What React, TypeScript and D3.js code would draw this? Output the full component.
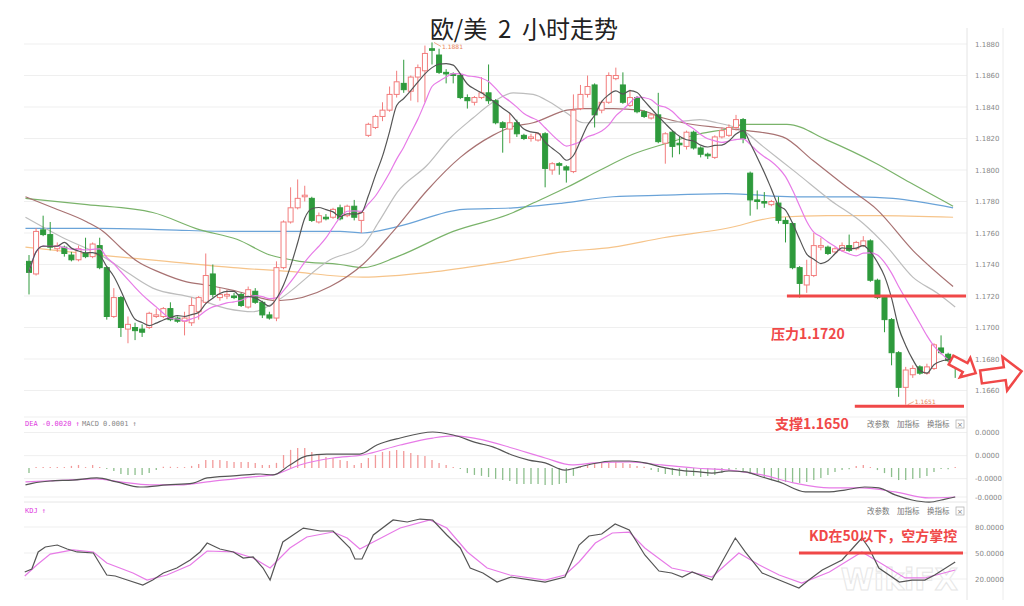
import React from 'react';
import * as d3 from 'd3';

// ---------- candle data (EUR/USD 2H) ----------
const candleOpen = [
  1.1742,1.1734,1.1762,1.1759,1.1750,1.1751,1.1746,1.1743,1.1747,1.1745,
  1.1752,1.1738,1.1707,1.1719,1.1699,1.1700,1.1699,1.1700,1.1707,1.1707,
  1.1712,1.1706,1.1704,1.1703,1.1710,1.1716,1.1734,1.1719,1.1720,1.1720,
  1.1721,1.1713,1.1723,1.1716,1.1708,1.1706,1.1738,1.1767,1.1776,1.1783,
  1.1782,1.1767,1.1770,1.1770,1.1776,1.1771,1.1777,1.1768,1.1822,1.1827,
  1.1834,1.1838,1.1848,1.1855,1.1850,1.1859,1.1863,1.1877,1.1873,1.1862,
  1.1861,1.1860,1.1846,1.1843,1.1846,1.1849,1.1844,1.1830,1.1826,1.1830,
  1.1822,1.1820,1.1819,1.1823,1.1800,1.1804,1.1802,1.1799,1.1839,1.1848,
  1.1854,1.1838,1.1843,1.1858,1.1854,1.1841,1.1846,1.1837,1.1833,1.1835,
  1.1817,1.1824,1.1817,1.1815,1.1824,1.1814,1.1810,1.1808,1.1821,1.1822,
  1.1827,1.1832,1.1798,1.1781,1.1780,1.1778,1.1779,1.1768,1.1766,1.1738,
  1.1727,1.1733,1.1751,1.1751,1.1748,1.1749,1.1752,1.1750,1.1752,1.1755,
  1.1730,1.1719,1.1705,1.1684,1.1662,1.1670,1.1675,1.1671,1.1674,1.1687,
  1.1683,1.1678,
];
const candleClose = [
  1.1735,1.1761,1.1759,1.1751,1.1752,1.1747,1.1743,1.1750,1.1745,1.1753,
  1.1738,1.1707,1.1719,1.1700,1.1702,1.1698,1.1697,1.1709,1.1708,1.1712,
  1.1705,1.1704,1.1706,1.1714,1.1719,1.1733,1.1721,1.1721,1.1721,1.1719,
  1.1714,1.1724,1.1716,1.1708,1.1706,1.1738,1.1767,1.1776,1.1782,1.1784,
  1.1768,1.1771,1.1769,1.1775,1.1769,1.1777,1.1770,1.1773,1.1829,1.1834,
  1.1838,1.1848,1.1856,1.1851,1.1859,1.1865,1.1874,1.1876,1.1862,1.1861,
  1.1860,1.1846,1.1844,1.1846,1.1849,1.1844,1.1830,1.1827,1.1830,1.1823,
  1.1820,1.1821,1.1823,1.1801,1.1804,1.1803,1.1800,1.1838,1.1848,1.1853,
  1.1835,1.1843,1.1860,1.1860,1.1843,1.1846,1.1837,1.1834,1.1835,1.1818,
  1.1823,1.1815,1.1816,1.1824,1.1814,1.1810,1.1809,1.1821,1.1825,1.1827,
  1.1832,1.1820,1.1781,1.1780,1.1779,1.1780,1.1768,1.1766,1.1738,1.1728,
  1.1733,1.1752,1.1752,1.1747,1.1750,1.1752,1.1749,1.1754,1.1755,1.1730,
  1.1719,1.1705,1.1684,1.1662,1.1673,1.1674,1.1671,1.1675,1.1689,1.1684,
  1.1679,1.1675,
];
const candleHigh = [
  1.1746,1.1763,1.1771,1.1767,1.1754,1.1752,1.1748,1.1752,1.1757,1.1754,
  1.1757,1.1739,1.1725,1.1720,1.1707,1.1703,1.1702,1.1710,1.1712,1.1713,
  1.1716,1.1707,1.1710,1.1719,1.1720,1.1747,1.1740,1.1725,1.1724,1.1722,
  1.1722,1.1726,1.1725,1.1717,1.1710,1.1742,1.1768,1.1789,1.1794,1.1790,
  1.1783,1.1773,1.1772,1.1776,1.1778,1.1778,1.1781,1.1774,1.1830,1.1835,
  1.1843,1.1853,1.1863,1.1870,1.1860,1.1867,1.1879,1.1881,1.1877,1.1864,
  1.1862,1.1861,1.1848,1.1847,1.1859,1.1867,1.1845,1.1831,1.1836,1.1832,
  1.1823,1.1823,1.1824,1.1824,1.1805,1.1805,1.1803,1.1848,1.1854,1.1860,
  1.1855,1.1844,1.1862,1.1865,1.1862,1.1851,1.1847,1.1838,1.1836,1.1849,
  1.1824,1.1825,1.1821,1.1825,1.1825,1.1815,1.1811,1.1822,1.1827,1.1829,
  1.1835,1.1833,1.1799,1.1787,1.1786,1.1781,1.1783,1.1770,1.1767,1.1739,
  1.1743,1.1760,1.1757,1.1752,1.1751,1.1754,1.1759,1.1755,1.1758,1.1756,
  1.1731,1.1720,1.1706,1.1685,1.1675,1.1676,1.1676,1.1677,1.1690,1.1695,
  1.1684,1.1680,
];
const candleLow = [
  1.1721,1.1733,1.1758,1.1749,1.1748,1.1745,1.1742,1.1742,1.1744,1.1744,
  1.1737,1.1705,1.1706,1.1694,1.1690,1.1692,1.1694,1.1699,1.1706,1.1706,
  1.1704,1.1703,1.1695,1.1701,1.1705,1.1715,1.1719,1.1717,1.1718,1.1718,
  1.1713,1.1712,1.1715,1.1706,1.1705,1.1704,1.1737,1.1766,1.1775,1.1780,
  1.1767,1.1766,1.1768,1.1769,1.1768,1.1770,1.1768,1.1760,1.1821,1.1826,
  1.1831,1.1837,1.1846,1.1849,1.1844,1.1843,1.1843,1.1867,1.1861,1.1855,
  1.1855,1.1845,1.1839,1.1841,1.1845,1.1842,1.1829,1.1811,1.1817,1.1821,
  1.1819,1.1818,1.1818,1.1789,1.1797,1.1797,1.1792,1.1798,1.1838,1.1846,
  1.1827,1.1836,1.1842,1.1857,1.1842,1.1840,1.1836,1.1833,1.1832,1.1817,
  1.1804,1.1808,1.1810,1.1813,1.1813,1.1808,1.1807,1.1807,1.1820,1.1821,
  1.1825,1.1817,1.1771,1.1775,1.1776,1.1777,1.1766,1.1754,1.1737,1.1719,
  1.1722,1.1732,1.1749,1.1746,1.1747,1.1748,1.1748,1.1749,1.1751,1.1729,
  1.1718,1.1697,1.1676,1.1656,1.1651,1.1668,1.1670,1.1670,1.1673,1.1683,
  1.1678,1.1668,
];

const priceTicks = [1.1880,1.1860,1.1840,1.1820,1.1800,1.1780,1.1760,1.1740,1.1720,1.1700,1.1680,1.1660];

// longer moving averages: [bar index, price]
const maGray: [number, number][] = [
  [-0.5,1.1770],[4.8,1.1757],[10.5,1.1745],[12.9,1.1738],[17.5,1.1725],[23.2,1.1719],[28,1.1712],
  [31.7,1.1710],[35.1,1.1717],[42.6,1.1743],[47.2,1.1752],[49.6,1.1768],[52.1,1.1786],[56.3,1.1803],
  [59.5,1.1820],[62.8,1.1833],[65.6,1.1843],[68.5,1.1849],[71.3,1.1848],[73.7,1.1843],[76.1,1.1836],
  [78.4,1.1830],[80.8,1.1830],[85.4,1.1830],[90.2,1.1830],[94.9,1.1832],[97.3,1.1830],[101,1.1825],
  [103.8,1.1815],[108.6,1.1798],[113.3,1.1781],[118,1.1766],[121.4,1.1751],[125,1.1732],[128.4,1.1722],[131,1.1713],
];
const maBrown: [number, number][] = [
  [-0.5,1.1783],[3.4,1.1776],[8.2,1.1767],[10.5,1.1761],[12.9,1.1751],[15.3,1.1742],[18.5,1.1735],
  [22.3,1.1729],[25.2,1.1727],[29.4,1.1723],[35.1,1.1717],[42.6,1.1726],[47.2,1.1740],[51.5,1.1761],
  [56.3,1.1787],[61,1.1808],[65.6,1.1822],[68,1.1827],[71.3,1.1830],[76.1,1.1838],[78.4,1.1839],
  [82.6,1.1839],[86.4,1.1838],[89.7,1.1833],[92.5,1.1830],[97.3,1.1827],[101.6,1.1825],[106.6,1.1821],
  [110.9,1.1806],[115.7,1.1789],[119.9,1.1775],[125,1.1749],[130.7,1.1726],
];
const maGreen: [number, number][] = [
  [-0.5,1.1782],[8.2,1.1778],[17.5,1.1773],[24.2,1.1762],[29.4,1.1756],[34.1,1.1746],[38.3,1.1742],
  [44,1.1740],[47.2,1.1738],[52.1,1.1745],[60,1.1761],[68.5,1.1773],[71.3,1.1779],[76.1,1.1789],
  [80.8,1.1800],[85.4,1.1810],[90.2,1.1817],[94.9,1.1823],[99.6,1.1827],[101,1.1829],[107.2,1.1829],
  [112.9,1.1819],[119.9,1.1804],[124.6,1.1792],[130.7,1.1777],
];
const maBlue: [number, number][] = [
  [-0.5,1.1763],[10,1.1763],[19.5,1.1762],[28.9,1.1761],[44,1.1761],[47.2,1.1760],[52.1,1.1764],
  [61.4,1.1775],[68.5,1.1776],[75.5,1.1779],[82.6,1.1783],[89.7,1.1784],[98.7,1.1785],[108.1,1.1783],
  [117.5,1.1783],[122.2,1.1782],[130.7,1.1776],
];
const maOrange: [number, number][] = [
  [-0.5,1.1751],[10,1.1746],[19.5,1.1742],[28.9,1.1738],[38.3,1.1735],[42.6,1.1733],[47.2,1.1732],
  [56.7,1.1735],[66.2,1.1741],[75.5,1.1748],[82.6,1.1751],[89.7,1.1757],[98.7,1.1763],[105.8,1.1770],
  [112.9,1.1771],[119.9,1.1771],[130.7,1.1770],
];

// MACD (units of 0.0001)
const macdHist = [
  -2.2,0.4,0.4,0.4,0.4,0.4,0.9,1.3,0.4,1.3,
  0.4,-0.4,-1.3,-2.6,-3.0,-3.0,-3.0,-2.2,-0.9,0.1,
  0.1,0.4,0.4,0.9,1.7,3.4,3.4,3.4,3.0,2.6,
  2.6,2.6,2.2,1.3,1.3,2.2,5.6,7.8,8.6,8.6,
  6.9,5.6,4.7,4.3,3.4,3.0,1.3,2.2,4.3,5.6,
  6.9,7.3,7.8,7.3,6.5,5.6,5.2,3.4,2.2,1.3,
  0.4,-0.4,-2.2,-3.0,-3.4,-3.9,-4.7,-5.2,-5.6,-6.9,
  -6.9,-6.9,-6.9,-7.3,-7.3,-6.9,-6.5,-3.4,0.4,1.3,
  1.7,2.2,2.2,2.6,2.2,1.7,0.9,0.1,-0.9,-1.7,
  -2.6,-3.0,-3.4,-3.4,-3.4,-3.9,-3.4,-3.0,-2.2,-1.3,
  -0.1,-1.3,-2.6,-3.4,-4.3,-5.2,-5.6,-6.0,-6.5,-6.5,
  -6.0,-5.2,-4.3,-3.0,-1.7,-0.9,-0.1,0.9,1.3,0.4,
  -0.9,-2.2,-3.9,-5.2,-5.2,-4.7,-4.3,-3.4,-1.7,-0.4,
  -0.1,0.4,
];
const macdDif: [number, number][] = [
  [-0.5,-7.3],[0.6,-6.5],[3,-5.6],[6.2,-5.2],[9.6,-4.3],[12.4,-6.0],[15.7,-8.2],[19.5,-7.3],[23.2,-6.5],
  [25.2,-4.3],[28.9,-3.4],[32.7,-2.6],[34.5,-3.0],[36.9,1.3],[39.3,5.2],[42.1,6.0],[46.8,6.0],[49.2,9.9],
  [52.5,12.9],[57.1,15.5],[60,14.2],[63.4,10.8],[65.6,9.1],[68.3,5.6],[70.7,3.4],[73,2.2],[75.8,-0.9],
  [77.8,0.4],[79.6,1.7],[82.5,3.0],[84.9,3.0],[87.1,2.2],[89.5,0.4],[91.9,-0.9],[94.8,-1.7],[96.6,-2.2],
  [99,-1.3],[101.3,-1.7],[103.7,-3.9],[106.1,-6.0],[109.8,-10.3],[113.2,-10.3],[115.4,-9.5],[118.2,-8.2],
  [120.2,-8.6],[122.5,-11.6],[124.9,-13.8],[127.3,-14.7],[129.6,-13.4],[131,-12.5],
];
const macdDea: [number, number][] = [
  [-0.5,-6.0],[5.4,-5.2],[9.6,-4.7],[12.9,-6.0],[17.1,-7.3],[21.4,-7.3],[25.2,-6.0],[31.3,-3.9],[34.5,-3.0],
  [38.3,1.3],[43,4.3],[47.2,5.6],[52.5,9.9],[57.1,12.9],[60,13.8],[64.2,12.1],[68.3,8.6],[73,4.3],
  [76.8,1.3],[80.1,2.2],[84.9,2.6],[89.5,1.3],[94.2,0],[99,-0.9],[103.7,-3.0],[108.3,-6.5],[113.2,-8.6],
  [117.8,-8.6],[122.5,-10.3],[127.3,-12.9],[131,-12.5],
];
const macdTicks = [15.3, 5.3, -4.6, -12.5];
const macdTickLabels = ['0.0000', '0.0000', '-0.0000', '-0.0000'];

// KD
const kdK: [number, number][] = [
  [-0.6,28.1],[0.4,31.5],[1.3,51.2],[2.3,56.9],[4,59.2],[5.4,54.6],[6.8,51.2],[9.1,50],[11,24.6],
  [12.2,23.5],[13.9,18.8],[16.1,13.1],[17.5,18.8],[19,26.9],[20.9,32.7],[22.8,41.9],[24.2,51.2],
  [25.2,61.5],[27,54.6],[28.9,51.2],[30.3,44.2],[31.7,45.4],[33.1,32.7],[34.1,18.8],[35.9,62.7],
  [38.8,78.8],[41.2,75.4],[43,75.4],[45.4,55.8],[46.1,43.1],[47.1,43.1],[48.7,70.8],[51.5,88.1],
  [53.5,85.8],[55.3,89.2],[57.1,88.1],[59.1,70.8],[61,55.8],[62.4,32.7],[64.2,26.9],[66.2,16.5],
  [68.2,22.3],[71.1,18.8],[73,16.5],[75.8,22.3],[77.8,59.2],[79.2,69.6],[81,71.9],[82.9,83.5],
  [84.9,76.5],[87.1,47.7],[89.1,29.2],[90.9,26.9],[92.4,22.3],[93.8,28.1],[96.6,18.8],[99.9,67.3],
  [101.3,51.2],[103.7,26.9],[106.1,18.8],[108.9,9.6],[110.3,18.8],[112.2,30.4],[115,41.9],[117.8,67.3],
  [118.8,55.8],[120.2,32.7],[123.1,16.5],[124.9,18.8],[126.7,18.8],[128.1,24.6],[131,39.6],
];
const kdD: [number, number][] = [
  [-0.6,23.5],[1.1,36.2],[3,48.8],[6.2,53.5],[9.1,51.2],[11,38.5],[14.7,26.9],[16.7,18.8],[19.5,24.6],
  [22.8,36.2],[25.2,52.3],[28.9,51.2],[31.7,44.2],[34.1,32.7],[36.9,55.8],[39.3,68.5],[43,74.2],
  [45,67.3],[46.8,54.6],[48.7,62.7],[52.5,78.8],[56.7,88.1],[59.1,78.8],[62,51.2],[64.8,32.7],
  [68,24.6],[73,18.8],[75.8,24.6],[77.8,39.6],[80.1,61.5],[82.5,73.1],[84.9,74.2],[87.1,55.8],
  [90.9,32.7],[94.2,26.9],[96.6,22.3],[100.4,50],[103.3,36.2],[106.1,24.6],[109.3,15.4],[113.2,28.1],
  [117.8,51.2],[120.2,39.6],[123.9,21.2],[126.7,21.2],[131,30.4],
];
const kdTicks = [80, 50, 20];
const kdTickLabels = ['80.0000', '50.0000', '20.0000'];

const resistanceLevel = 1.1720;
const supportLevel = 1.1650;
const kdLevel = 50;

const C_UP = '#f27d7d';
const C_DN = '#2e9a3c';
const C_RED = '#f04848';
const GRID = '#efefef';

const xs = d3.scaleLinear().domain([0, 131]).range([29, 955.2]);
const yP = d3.scaleLinear().domain([1.1660, 1.1880]).range([390.5, 44]);
const yM = d3.scaleLinear().domain([-12.5, 15.5]).range([497, 432]);
const yK = d3.scaleLinear().domain([20, 80]).range([579, 527]);

const movingAvg = (n: number) =>
  candleClose.map((_, i) => d3.mean(candleClose.slice(Math.max(0, i - n + 1), i + 1)) as number);

export default function App() {
  const ma5 = movingAvg(5).map((v, i) => [i, v] as [number, number]);
  const ma10 = movingAvg(10).map((v, i) => [i, v] as [number, number]);
  const smooth = d3.line<[number, number]>().x(d => xs(d[0])).y(d => yP(d[1])).curve(d3.curveMonotoneX);
  const macdLine = d3.line<[number, number]>().x(d => xs(d[0])).y(d => yM(d[1])).curve(d3.curveMonotoneX);
  const kdLine = d3.line<[number, number]>().x(d => xs(d[0])).y(d => yK(d[1]));

  const left = 24, right = 967;
  const hiIdx = d3.maxIndex(candleHigh);
  const loIdx = d3.minIndex(candleLow);

  const sans = 'DejaVu Sans, sans-serif';
  const cjk = '"Noto Sans CJK SC", sans-serif';

  const buttons = (y: number) => (
    <g fontFamily={cjk} fontSize={7.5} fill="#777">
      <text x={867} y={y}>改参数</text>
      <text x={897} y={y}>加指标</text>
      <text x={927} y={y}>换指标</text>
      <rect x={956} y={y - 7} width={8} height={8} fill="none" stroke="#aaa" strokeWidth={0.7} />
      <text x={960} y={y} textAnchor="middle" fontSize={7} fontFamily={sans}>×</text>
    </g>
  );

  return (
    <svg width={1024} height={606} style={{ position: 'absolute', left: 0, top: 0, background: '#fff' }}>
      <rect x={0} y={0} width={1024} height={606} fill="#fff" />
      {/* watermark */}
      <text x={958} y={590} textAnchor="end" fontFamily={sans} fontSize={30} fontWeight="bold"
        fill="none" stroke="#e6e6e6" strokeWidth={1}>WikiFX</text>
      {/* grid main */}
      {priceTicks.map(t => (
        <line key={t} x1={left} x2={right} y1={yP(t)} y2={yP(t)} stroke={GRID} strokeWidth={1} />
      ))}
      {/* MACD grid */}
      <line x1={left} x2={right} y1={417} y2={417} stroke={GRID} />
      {macdTicks.map((t, i) => (
        <line key={'mg' + i} x1={left} x2={right} y1={yM(t)} y2={yM(t)} stroke={GRID} />
      ))}
      <line x1={left} x2={right} y1={502} y2={502} stroke="#e6e6e6" />
      {kdTicks.map(t => (
        <line key={'kg' + t} x1={left} x2={right} y1={yK(t)} y2={yK(t)} stroke={GRID} />
      ))}
      {/* right axis lines */}
      <line x1={967} x2={967} y1={28} y2={600} stroke="#e4e4e4" />
      <line x1={1003} x2={1003} y1={28} y2={600} stroke="#ececec" />

      {/* price tick labels */}
      <g fontFamily={sans} fontSize={7} fill="#888">
        {priceTicks.map(t => (
          <text key={'pt' + t} x={975} y={yP(t) + 2.5}>{t.toFixed(4)}</text>
        ))}
        {macdTicks.map((t, i) => (
          <text key={'mt' + i} x={975} y={yM(t) + 2.5}>{macdTickLabels[i]}</text>
        ))}
        {kdTicks.map((t, i) => (
          <text key={'kt' + t} x={975} y={yK(t) + 2.5}>{kdTickLabels[i]}</text>
        ))}
      </g>

      {/* title */}
      <text x={524} y={38} textAnchor="middle" fontFamily={cjk} fontSize={24} fill="#222"
        style={{ whiteSpace: 'pre' }}>{'欧/美  2  小时走势'}</text>

      {/* moving averages */}
      <g fill="none" strokeWidth={1.2}>
        <path d={smooth(maOrange) as string} stroke="#f6c48a" />
        <path d={smooth(maBlue) as string} stroke="#6aa3d8" />
        <path d={smooth(maGreen) as string} stroke="#7ab36a" />
        <path d={smooth(maBrown) as string} stroke="#a87272" />
        <path d={smooth(maGray) as string} stroke="#bdbdbd" />
      </g>

      {/* candles */}
      {candleOpen.map((o, i) => {
        const c = candleClose[i];
        const up = c >= o;
        const col = up ? C_UP : C_DN;
        const x = xs(i);
        const yTop = yP(Math.max(o, c));
        const yBot = yP(Math.min(o, c));
        return (
          <g key={'c' + i}>
            <line x1={x} x2={x} y1={yP(candleHigh[i])} y2={yP(candleLow[i])} stroke={col} strokeWidth={1} />
            <rect x={x - 2.5} y={yTop} width={5} height={Math.max(1, yBot - yTop)}
              fill={up ? '#fff' : col} stroke={col} strokeWidth={1} />
          </g>
        );
      })}

      {/* short MAs */}
      <g fill="none" strokeWidth={1.2}>
        <path d={smooth(ma10) as string} stroke="#e77be7" />
        <path d={smooth(ma5) as string} stroke="#555" />
      </g>

      {/* high / low labels */}
      <g fontFamily={sans} fontSize={6} fill="#e8845a">
        <line x1={xs(hiIdx) + 2} x2={xs(hiIdx) + 9} y1={yP(candleHigh[hiIdx])} y2={yP(candleHigh[hiIdx]) + 4} stroke="#e8845a" strokeWidth={0.7} />
        <text x={xs(hiIdx) + 10} y={yP(candleHigh[hiIdx]) + 7}>{candleHigh[hiIdx].toFixed(4)}</text>
        <line x1={xs(loIdx) + 2} x2={xs(loIdx) + 8} y1={yP(candleLow[loIdx])} y2={yP(candleLow[loIdx]) - 3} stroke="#e8845a" strokeWidth={0.7} />
        <text x={xs(loIdx) + 9} y={yP(candleLow[loIdx]) - 1}>{candleLow[loIdx].toFixed(4)}</text>
      </g>

      {/* MACD histogram */}
      {macdHist.map((v, i) => (
        <line key={'h' + i} x1={xs(i)} x2={xs(i)} y1={yM(0)} y2={yM(v) + (Math.abs(v) < 0.3 ? (v >= 0 ? -1 : 1) : 0)}
          stroke={v >= 0 ? '#f29a9a' : '#8dbf8d'} strokeWidth={1.3} />
      ))}
      <g fill="none" strokeWidth={1.2}>
        <path d={macdLine(macdDea) as string} stroke="#e77be7" />
        <path d={macdLine(macdDif) as string} stroke="#555" />
      </g>
      <g fontFamily="DejaVu Sans Mono, monospace" fontSize={7}>
        <text x={25} y={426} fill="#e040e0">DEA -0.0020 ↑</text>
        <text x={82} y={426} fill="#888">MACD 0.0001 ↑</text>
        <text x={25} y={513} fill="#e040e0">KDJ ↑</text>
      </g>
      {buttons(427)}
      {buttons(514)}

      {/* KD lines */}
      <g fill="none" strokeWidth={1.2}>
        <path d={kdLine(kdD) as string} stroke="#e77be7" />
        <path d={kdLine(kdK) as string} stroke="#555" />
      </g>

      {/* annotations */}
      <line x1={xs(107.2)} x2={966} y1={yP(resistanceLevel)} y2={yP(resistanceLevel)} stroke={C_RED} strokeWidth={3} />
      <line x1={xs(116.8)} x2={964} y1={yP(supportLevel)} y2={yP(supportLevel)} stroke={C_RED} strokeWidth={3} />
      <line x1={xs(108.9)} x2={963} y1={yK(kdLevel)} y2={yK(kdLevel)} stroke={C_RED} strokeWidth={3} />
      <g fontFamily={cjk} fontSize={14} fontWeight={600} fill={C_RED}>
        <text x={771} y={339}>压力{resistanceLevel.toFixed(4)}</text>
        <text x={775} y={429}>支撑{supportLevel.toFixed(4)}</text>
        <text x={809} y={541}>KD在{kdLevel}以下，空方掌控</text>
      </g>
      <g fill="#fff" stroke={C_RED} strokeWidth={2.5} strokeLinejoin="miter">
        <path transform="translate(951,360) rotate(28)" d="M0,-5 L16,-5 L16,-11 L28,0 L16,11 L16,5 L0,5 Z" />
        <path transform="translate(981,377) rotate(-8)" d="M0,-6.5 L24,-6.5 L24,-17 L41,0 L24,17 L24,6.5 L0,6.5 Z" />
      </g>
    </svg>
  );
}
